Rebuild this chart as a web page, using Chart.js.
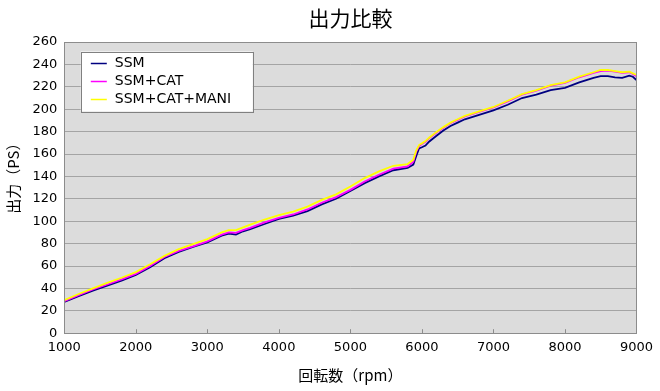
<!DOCTYPE html>
<html>
<head>
<meta charset="utf-8">
<script src="https://cdn.jsdelivr.net/npm/chart.js@4.4.1/dist/chart.umd.min.js"></script>
<style>
  html, body { margin: 0; padding: 0; background: #ffffff; }
  #wrap { width: 660px; height: 391px; }
</style>
</head>
<body>
<div id="wrap"><canvas id="myChart" width="660" height="391"></canvas></div>
<script>
// 回転数 (rpm)
const rpm = [1000, 1200, 1400, 1600, 1800, 2000, 2200, 2400, 2600, 2800,
  3000, 3200, 3300, 3400, 3500, 3600, 3800, 4000, 4200, 4400,
  4600, 4800, 5000, 5200, 5400, 5600, 5800, 5880, 5920, 5960,
  6000, 6050, 6100, 6200, 6300, 6400, 6500, 6600, 6800, 7000,
  7200, 7400, 7600, 7800, 8000, 8200, 8400, 8500, 8600, 8700,
  8800, 8900, 8950, 9000];

// 出力 (PS)
const ssm = [28, 33, 38, 42.5, 47, 52, 59, 67, 72.5, 77,
  81, 87, 89, 88, 91, 93, 97.5, 102, 105, 109,
  115, 120, 127, 134, 140, 145.5, 147.5, 150.5, 158, 165,
  166, 167.5, 171, 176, 181, 185, 188, 191, 195, 199,
  204, 210, 213, 217, 219, 224, 228, 229.5, 229.5, 228.5,
  228, 230, 229, 226];

const ssmCat = [28.5, 34, 39, 43.5, 48, 53, 60, 68, 73.5, 77.5,
  82, 88, 90, 89.5, 92, 94, 99, 103, 106, 110.5,
  116.5, 121.5, 128, 135.5, 141.5, 147, 149, 153, 162, 167,
  169, 171, 174, 179, 183.5, 187.5, 190.5, 193.5, 197.5, 201.5,
  207, 213, 216.5, 221, 223.5, 228.5, 232.5, 234, 234.5, 233.5,
  232.5, 233, 231.5, 229.5];

const ssmCatMani = [29.5, 35, 40, 45, 49.5, 54.5, 61.5, 69, 75, 79.5,
  84, 90, 92, 92, 94.5, 97, 101.5, 105.5, 108.5, 113,
  119, 124, 131, 138.5, 144.5, 149.5, 151, 155, 163, 168,
  169.5, 171.5, 174.5, 179.5, 184, 188, 191, 194, 198, 202,
  207.5, 213.5, 217, 221.5, 224, 229, 233, 235, 235, 234,
  233, 233.5, 232, 230.5];

const seriesNames = ['SSM', 'SSM+CAT', 'SSM+CAT+MANI'];
const seriesColors = ['#000080', '#ff00ff', '#ffff00'];
const yTitle = '出力（PS）';

const latin = '"DejaVu Sans", Verdana, sans-serif';
const cjk = '"Noto Sans CJK JP", "Noto Sans", sans-serif';

function toPoints(vals) {
  return rpm.map((r, i) => ({ x: r, y: vals[i] }));
}

// 背景・枠・縦軸タイトル
const plotArea = {
  id: 'plotArea',
  beforeDraw(chart) {
    const a = chart.chartArea;
    const ctx = chart.ctx;
    ctx.save();
    ctx.fillStyle = '#dcdcdc';
    ctx.fillRect(a.left, a.top, a.right - a.left, a.bottom - a.top);
    ctx.restore();
  },
  afterDraw(chart) {
    const a = chart.chartArea;
    const ctx = chart.ctx;
    ctx.save();
    ctx.strokeStyle = '#8c8c8c';
    ctx.lineWidth = 1;
    ctx.strokeRect(Math.round(a.left) + 0.5, Math.round(a.top) + 0.5,
      Math.round(a.right - a.left), Math.round(a.bottom - a.top));
    // 内向きの目盛
    const xs = chart.scales.x;
    xs.ticks.forEach(t => {
      const px = Math.round(xs.getPixelForValue(t.value)) + 0.5;
      ctx.beginPath();
      ctx.moveTo(px, a.bottom);
      ctx.lineTo(px, a.bottom - 4);
      ctx.stroke();
    });
    // 縦軸タイトル (少し上寄せ)
    ctx.translate(13, (a.top + a.bottom) / 2 - 13);
    ctx.rotate(-Math.PI / 2);
    ctx.font = '15px ' + cjk;
    ctx.fillStyle = '#000000';
    ctx.textAlign = 'center';
    ctx.textBaseline = 'middle';
    ctx.fillText(yTitle, 0, 0);
    ctx.restore();
  }
};

// 凡例 (グラフ内)
const boxLegend = {
  id: 'boxLegend',
  afterDraw(chart) {
    const a = chart.chartArea;
    const ctx = chart.ctx;
    const x = a.left + 16.5, y = a.top + 9.5;
    const w = 172, h = 60;
    ctx.save();
    ctx.fillStyle = '#ffffff';
    ctx.fillRect(x, y, w, h);
    ctx.strokeStyle = '#808080';
    ctx.lineWidth = 1;
    ctx.strokeRect(Math.round(x) + 0.5, Math.round(y) + 0.5, w, h);
    ctx.font = '14px ' + latin;
    ctx.textBaseline = 'middle';
    ctx.fillStyle = '#000000';
    chart.data.datasets.forEach((ds, i) => {
      const cy = y + 12 + i * 18;
      ctx.strokeStyle = ds.borderColor;
      ctx.lineWidth = 1.5;
      ctx.beginPath();
      ctx.moveTo(x + 10, cy);
      ctx.lineTo(x + 26, cy);
      ctx.stroke();
      ctx.fillText(ds.label, x + 34, cy);
    });
    ctx.restore();
  }
};

const ctx = document.getElementById('myChart').getContext('2d');
new Chart(ctx, {
  type: 'line',
  data: {
    datasets: [
      { label: seriesNames[0], data: toPoints(ssm), borderColor: seriesColors[0], order: 3 },
      { label: seriesNames[1], data: toPoints(ssmCat), borderColor: seriesColors[1], order: 2 },
      { label: seriesNames[2], data: toPoints(ssmCatMani), borderColor: seriesColors[2], order: 1 }
    ]
  },
  options: {
    responsive: false,
    animation: false,
    layout: { padding: { top: 0, right: 23, bottom: 0, left: 0 } },
    elements: {
      line: { borderWidth: 1.8, tension: 0, fill: false },
      point: { radius: 0 }
    },
    plugins: {
      legend: { display: false },
      tooltip: { enabled: false },
      title: {
        display: true,
        text: '出力比較',
        fullSize: false,
        color: '#000000',
        font: { family: cjk, size: 21, weight: 'normal', lineHeight: 1.2 },
        padding: { top: 5, bottom: 11.8 }
      }
    },
    scales: {
      x: {
        type: 'linear',
        min: 1000,
        max: 9000,
        afterFit(scale) { scale.height = 57.8; },
        ticks: {
          stepSize: 1000,
          color: '#000000',
          font: { family: latin, size: 13 },
          padding: 7,
          maxRotation: 0,
          callback: v => String(v)
        },
        grid: { display: false, drawTicks: false },
        border: { display: false },
        title: {
          display: true,
          text: '回転数（rpm）',
          color: '#000000',
          font: { family: cjk, size: 15 },
          padding: { top: 0, bottom: 7 }
        }
      },
      y: {
        min: 0,
        max: 260,
        afterFit(scale) { scale.width = 64.3; },
        ticks: {
          stepSize: 20,
          color: '#000000',
          font: { family: latin, size: 13 },
          padding: 7
        },
        grid: { color: '#a4a4a4', lineWidth: 1, drawTicks: false },
        border: { display: false },
        title: { display: false }
      }
    }
  },
  plugins: [plotArea, boxLegend]
});
</script>
</body>
</html>
